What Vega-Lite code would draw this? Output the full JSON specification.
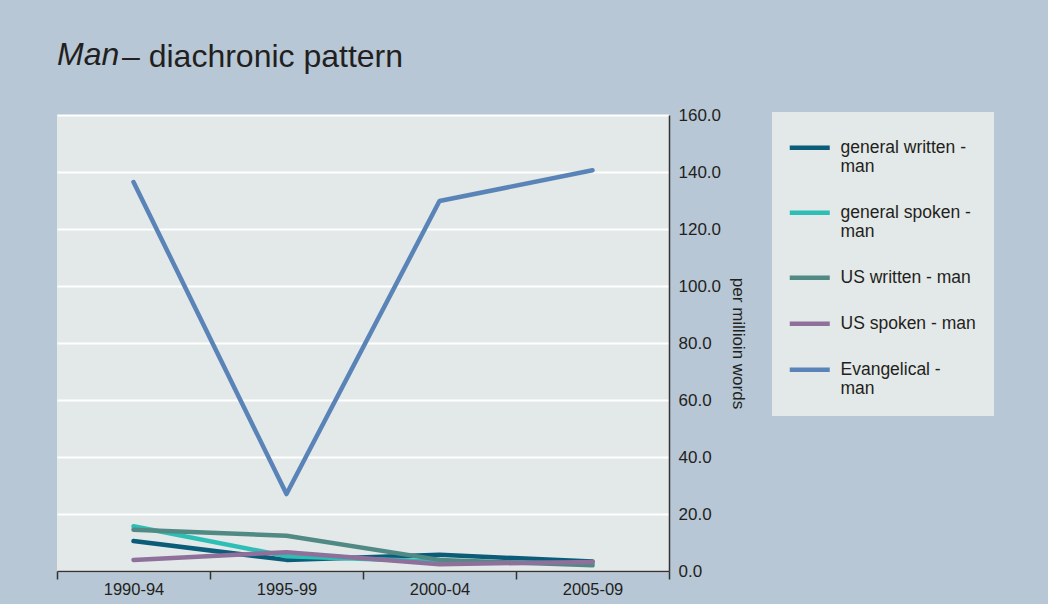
{
  "$schema": "https://vega.github.io/schema/vega-lite/v6.json",
  "autosize": "none",
  "width": 612,
  "height": 456,
  "padding": {"left": 57, "top": 115, "right": 379, "bottom": 33},
  "background": "#b7c7d5",
  "title": {
    "text": "– diachronic pattern",
    "subtitle": "Man",
    "anchor": "start",
    "frame": "group",
    "font": "Liberation Sans",
    "fontSize": 32,
    "fontWeight": "normal",
    "color": "#231f20",
    "subtitleFont": "Liberation Sans",
    "subtitleFontSize": 32,
    "subtitleFontStyle": "italic",
    "subtitleColor": "#231f20",
    "subtitlePadding": -34,
    "offset": 30,
    "encoding": {"dx": {"value": 65}}
  },
  "data": {
    "values": [
      {"period": "1990-94", "series": "general written - man", "value": 10.5},
      {"period": "1995-99", "series": "general written - man", "value": 3.9},
      {"period": "2000-04", "series": "general written - man", "value": 5.7},
      {"period": "2005-09", "series": "general written - man", "value": 3.3},
      {"period": "1990-94", "series": "general spoken - man", "value": 15.7},
      {"period": "1995-99", "series": "general spoken - man", "value": 5.2},
      {"period": "2000-04", "series": "general spoken - man", "value": 3.3},
      {"period": "2005-09", "series": "general spoken - man", "value": 2.6},
      {"period": "1990-94", "series": "US written - man", "value": 14.5},
      {"period": "1995-99", "series": "US written - man", "value": 12.4},
      {"period": "2000-04", "series": "US written - man", "value": 3.9},
      {"period": "2005-09", "series": "US written - man", "value": 2.0},
      {"period": "1990-94", "series": "US spoken - man", "value": 3.9},
      {"period": "1995-99", "series": "US spoken - man", "value": 6.6},
      {"period": "2000-04", "series": "US spoken - man", "value": 2.4},
      {"period": "2005-09", "series": "US spoken - man", "value": 3.2},
      {"period": "1990-94", "series": "Evangelical - man", "value": 136.5},
      {"period": "1995-99", "series": "Evangelical - man", "value": 27.0},
      {"period": "2000-04", "series": "Evangelical - man", "value": 129.8},
      {"period": "2005-09", "series": "Evangelical - man", "value": 140.6}
    ]
  },
  "mark": {"type": "line", "strokeWidth": 4.5, "strokeJoin": "round", "strokeCap": "round"},
  "encoding": {
    "x": {
      "field": "period",
      "type": "ordinal",
      "scale": {"type": "band", "paddingInner": 0, "paddingOuter": 0},
      "axis": {
        "title": null,
        "labelAngle": 0,
        "tickBand": "extent",
        "tickSize": 8,
        "tickWidth": 1.5,
        "tickColor": "#333333",
        "domainColor": "#333333",
        "domainWidth": 1.5,
        "labelFont": "Liberation Sans",
        "labelFontSize": 16.5,
        "labelColor": "#231f20",
        "labelPadding": 2,
        "grid": false
      }
    },
    "y": {
      "field": "value",
      "type": "quantitative",
      "scale": {"domain": [0, 160], "nice": false},
      "axis": {
        "orient": "right",
        "values": [0, 20, 40, 60, 80, 100, 120, 140, 160],
        "format": ".1f",
        "ticks": false,
        "domainColor": "#333333",
        "domainWidth": 1.5,
        "grid": true,
        "gridColor": "#ffffff",
        "gridWidth": 2,
        "labelFont": "Liberation Sans",
        "labelFontSize": 17,
        "labelColor": "#231f20",
        "labelPadding": 9,
        "title": "per millioin words",
        "titleFont": "Liberation Sans",
        "titleFontSize": 17,
        "titleFontWeight": "normal",
        "titleColor": "#231f20",
        "titlePadding": 8
      }
    },
    "color": {
      "field": "series",
      "type": "nominal",
      "sort": ["general written - man", "general spoken - man", "US written - man", "US spoken - man", "Evangelical - man"],
      "scale": {
        "domain": ["general written - man", "general spoken - man", "US written - man", "US spoken - man", "Evangelical - man"],
        "range": ["#0b5c78", "#2dbfb6", "#518a84", "#8e709b", "#5a84b7"]
      },
      "legend": {
        "title": null,
        "orient": "none",
        "legendX": 715,
        "legendY": -3,
        "fillColor": "#e3e8e8",
        "padding": 18,
        "symbolType": "M-10,4.5L10,4.5",
        "symbolSize": 16,
        "symbolOffset": 11,
        "symbolStrokeWidth": 4.5,
        "labelFont": "Liberation Sans",
        "labelFontSize": 17.5,
        "labelColor": "#231f20",
        "labelOffset": 22,
        "labelBaseline": "top",
        "labelLimit": 300,
        "rowPadding": 19,
        "labelExpr": "datum.label == 'general written - man' ? ['general written -', 'man'] : datum.label == 'general spoken - man' ? ['general spoken -', 'man'] : datum.label == 'Evangelical - man' ? ['Evangelical -', 'man'] : datum.label"
      }
    }
  },
  "config": {
    "view": {"fill": "#e3e8e8", "stroke": null}
  }
}
